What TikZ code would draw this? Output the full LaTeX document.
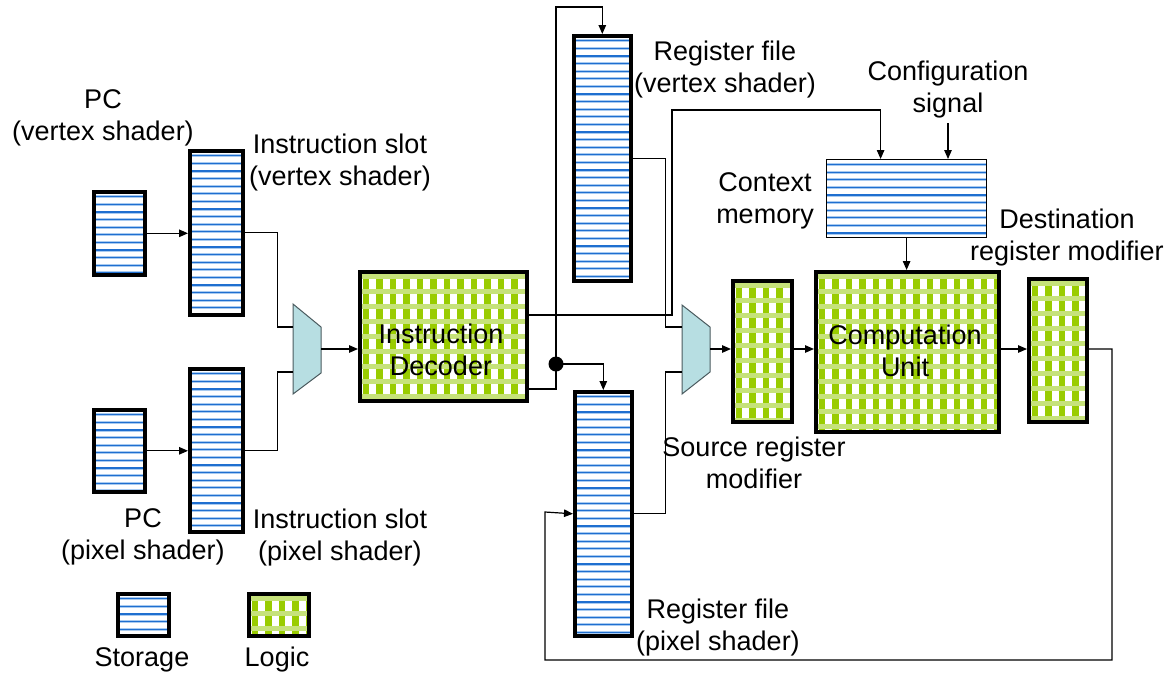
\documentclass[tikz,border=0pt]{standalone}
\usepackage{fontspec}
\setmainfont{Liberation Sans}
\usetikzlibrary{arrows.meta,calc}
\definecolor{core}{HTML}{1F6FD0}
\definecolor{halo}{HTML}{A9CBF0}
\definecolor{lgreen}{HTML}{99CC00}
\definecolor{band}{HTML}{C6E27A}
\definecolor{muxfill}{HTML}{B7DEE2}
\definecolor{muxline}{HTML}{4A5A5E}

\tikzset{
  % striped register-like storage block
  stripes/.style={path picture={
    \foreach \k in {0,...,33}{
      \draw[line width=3pt, halo]
        ([yshift=-5pt-\k*7.6pt]path picture bounding box.north west) --
        ([yshift=-5pt-\k*7.6pt]path picture bounding box.north east);
      \draw[line width=1.2pt, core]
        ([yshift=-5pt-\k*7.6pt]path picture bounding box.north west) --
        ([yshift=-5pt-\k*7.6pt]path picture bounding box.north east);
    }}},
  storage/.style={stripes, draw=black, line width=3.6pt, fill=white,
    inner sep=0pt, anchor=north west},
  thinstorage/.style={stripes, draw=black, line width=1.2pt, fill=white,
    inner sep=0pt, anchor=north west},
  % checkered combinational logic block
  logic/.style={draw=black, line width=3.6pt, fill=white, inner sep=0pt,
    anchor=north west, path picture={
    \foreach \k in {0,...,14}
      \fill[lgreen] ([xshift=3pt+\k*13.5pt]path picture bounding box.north west)
        rectangle ++(6.5pt,-500pt);
    \foreach \k in {0,...,12}
      \fill[band] ([yshift=-2pt-\k*15pt]path picture bounding box.north west)
        rectangle ++(400pt,-5pt);
    }},
  lbl/.style={font=\fontsize{27}{32}\selectfont, align=center, inner sep=0pt},
  wire/.style={line width=1.2pt, draw=black},
  arr/.style={wire, -{Triangle[length=9pt,width=7.5pt]}},
  mux/.style={fill=muxfill, draw=muxline, line width=1pt},
}

\begin{document}
\begin{tikzpicture}[x=1pt,y=-1pt]
\useasboundingbox (0,0) rectangle (1175,675);

% storage blocks
\node[storage, minimum width=51pt, minimum height=83pt]  (pcv) at (92,190) {};
\node[storage, minimum width=53pt, minimum height=164pt] (isv) at (188,149) {};
\node[storage, minimum width=51pt, minimum height=82pt]  (pcp) at (92,408) {};
\node[storage, minimum width=53pt, minimum height=163pt] (isp) at (188,367) {};
\node[storage, minimum width=57pt, minimum height=245pt] (rfv) at (572,34) {};
\node[storage, minimum width=57pt, minimum height=244pt] (rfp) at (573,390) {};
\node[thinstorage, minimum width=160pt, minimum height=78pt] (cm) at (826,159) {};

% logic blocks
\node[logic, minimum width=167pt, minimum height=129pt] (dec) at (358,270) {};
\node[logic, minimum width=59pt, minimum height=141pt]  (srm) at (731,279) {};
\node[logic, minimum width=183pt, minimum height=160pt] (cu)  at (814,270) {};
\node[logic, minimum width=58pt, minimum height=143pt]  (drm) at (1027,277) {};

\node[lbl] (dectxt) at (441,350) {Instruction\\Decoder};
\node[lbl] (cutxt)  at (905,351) {Computation\\Unit};

% multiplexers
\draw[mux] (293,304) -- (321,327) -- (321,373) -- (293,394) -- cycle;
\coordinate (m1a) at (293,327);
\coordinate (m1b) at (293,372);
\coordinate (m1o) at (321,349);
\draw[mux] (682,305) -- (710,327) -- (710,372) -- (682,394) -- cycle;
\coordinate (m2a) at (682,327);
\coordinate (m2b) at (682,372);
\coordinate (m2o) at (710,349);

% routing levels
\coordinate (yA) at (0,315);
\coordinate (yB) at (0,389);
\coordinate (ytop) at (0,7);
\coordinate (ycfg) at (0,123);
\coordinate (t1) at (672,110);
\coordinate (jn) at (556,364);
\coordinate (fb1) at (1112,660);
\coordinate (fb2) at (545,512);

% fetch path
\draw[arr] (pcv.east) -- (pcv.east -| isv.west);
\draw[arr] (pcp.east) -- (pcp.east -| isp.west);
\draw[wire] (isv.east) -- ++(33,0) |- (m1a);
\draw[wire] (isp.east) -- ++(33,0) |- (m1b);
\draw[arr] (m1o) -- (m1o -| dec.west);

% decoder outputs
\draw[arr] (dec.east |- yA) -| (t1) -| ([xshift=-26pt]cm.north);
\draw[wire] (dec.east |- yB) -| (jn);
\fill (jn) circle (7.5);
\draw[arr] (jn) -- (jn |- ytop) -| (rfv.north);
\draw[arr] (jn) -| (rfp.north);

% operand selection and datapath
\draw[wire] (rfv.east) -- ++(33,0) |- (m2a);
\draw[wire] (rfp.east) -- ++(32,0) |- (m2b);
\draw[arr] (m2o) -- (m2o -| srm.west);
\draw[arr] (srm.east |- m2o) -- (m2o -| cu.west);
\draw[arr] (cm.south) -- (cm.south |- cu.north);
\draw[arr] (cu.east |- m2o) -- (m2o -| drm.west);
\draw[arr] (drm.east |- m2o) -| (fb1) -| (fb2) -- (rfp.west);

% labels
\node[lbl, anchor=north] (lpcv) at (103,89) {PC\\(vertex shader)};
\node[lbl, anchor=north] (lisv) at (340,134) {Instruction slot\\(vertex shader)};
\node[lbl, anchor=north] (lpcp) at (143,508) {PC\\(pixel shader)};
\node[lbl, anchor=north] (lisp) at (340,509) {Instruction slot\\(pixel shader)};
\node[lbl, anchor=north] (lrfv) at (725,41) {Register file\\(vertex shader)};
\node[lbl, anchor=north] (lcfg) at (948,61) {Configuration\\signal};
\draw[arr] (lcfg.south |- ycfg) -- (lcfg.south |- cm.north);
\node[lbl, anchor=north] (lcm)  at (765,172) {Context\\memory};
\node[lbl, anchor=north] (ldrm) at (1067,209) {Destination\\register modifier};
\node[lbl, anchor=north] (lsrm) at (754,437) {Source register\\modifier};
\node[lbl, anchor=north] (lrfp) at (718,599) {Register file\\(pixel shader)};

% legend
\node[storage, minimum width=51pt, minimum height=42pt] (legs) at (116,592) {};
\node[logic, minimum width=60pt, minimum height=42pt]   (legl) at (247,592) {};
\node[lbl, anchor=north] (lst) at (142,647) {Storage};
\node[lbl, anchor=north] (llg) at (277,647) {Logic};
\end{tikzpicture}
\end{document}
